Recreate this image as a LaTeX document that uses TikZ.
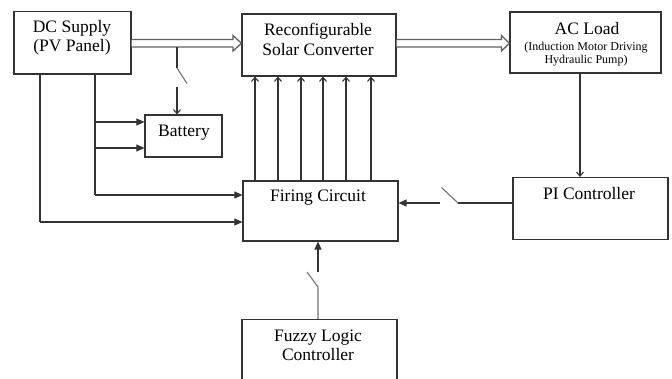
\documentclass[tikz,border=0pt]{standalone}
\usepackage{fontspec}
\setmainfont{Liberation Serif}
\newfontfamily\tnr{Liberation Serif}
\usetikzlibrary{arrows.meta,calc}
\definecolor{boxc}{gray}{0.2}
\definecolor{linec}{gray}{0.2}
\definecolor{dblc}{gray}{0.38}
\definecolor{swc}{gray}{0.45}
\begin{document}
\begin{tikzpicture}[x=1pt,y=-1pt,
  box/.style={draw=boxc, line width=1.2pt, inner sep=0pt, fill=white},
  lbl/.style={anchor=base, inner sep=0pt, font=\tnr\fontsize{17.5}{19}\selectfont},
  sml/.style={anchor=base, inner sep=0pt, font=\tnr\fontsize{12}{13}\selectfont},
  wire/.style={draw=linec, line width=1.1pt},
  swline/.style={draw=swc, line width=1.1pt},
  fa/.style={wire, -{Triangle[length=8pt,width=7pt]}},
  oa/.style={wire, -{Straight Barb[length=4pt,width=7pt]}},
  dbl/.style={draw=dblc, line width=1.3pt, fill=white, line join=miter}
]
\useasboundingbox (0,0) rectangle (672,378);
\clip (0,0) rectangle (672,378);
\fill[white] (0,0) rectangle (672,378);

% boxes
\node[box, minimum width=117pt, minimum height=62.5pt] (dc) at (72.5,42.75) {};
\node[box, minimum width=154pt, minimum height=62pt] (rc) at (319,45) {};
\node[box, minimum width=151pt, minimum height=61pt] (ac) at (585.5,42.5) {};
\node[box, minimum width=77pt, minimum height=42pt] (bat) at (183.5,136) {};
\node[box, minimum width=155pt, minimum height=60pt] (fc) at (320.5,211) {};
\node[box, minimum width=155pt, minimum height=62pt] (pi) at (590.5,208.5) {};
\node[box, minimum width=155pt, minimum height=70pt] (fz) at (319.5,354.5) {};

% texts
\node[lbl] (t1) at (72,32.5) {DC Supply};
\node[lbl] (t2) at (72,51.5) {(PV Panel)};
\node[lbl] (t3) at (318,35.5) {Reconfigurable};
\node[lbl] (t4) at (318,55) {Solar Converter};
\node[lbl] (t5) at (587,34) {AC Load};
\node[sml] (t6) at (586,50) {(Induction Motor Driving};
\node[sml] (t7) at (586,63.5) {Hydraulic Pump)};
\node[lbl] (t8) at (184,136.5) {Battery};
\node[lbl] (t9) at (318,201) {Firing Circuit};
\node[lbl] (t10) at (589,199.5) {PI Controller};
\node[lbl] (t11) at (318,341.5) {Fuzzy Logic};
\node[lbl] (t12) at (318,360.5) {Controller};

% double arrows
\draw[dbl] (dc.east |- 0,39.5) -- (233,39.5) -- (233,35.5) -- (rc.west |- 0,43.3)
  -- (233,51) -- (233,47) -- (dc.east |- 0,47);
\draw[dbl] (rc.east |- 0,39.5) -- (501.5,39.5) -- (501.5,35.5) -- (ac.west |- 0,43.3)
  -- (501.5,51) -- (501.5,47) -- (rc.east |- 0,47);

% switch to battery
\coordinate (s1) at (177,47);
\coordinate (s2) at (177,68);
\coordinate (s3) at (187,83.5);
\coordinate (s4) at (177,87);
\draw[wire] (s1) -- (s2);
\draw[swline] (s2) -- (s3);
\draw[oa] (s4) -- (bat.north -| s4);

% DC supply feeds
\coordinate (b1) at (95,74);
\coordinate (b2) at (40,74);
\draw[wire] (dc.south -| b1) -- (95,195);
\draw[fa] (95,195) -- (fc.west |- 0,195);
\draw[fa] (95,122) -- (bat.west |- 0,122);
\draw[fa] (95,148) -- (bat.west |- 0,148);
\draw[wire] (dc.south -| b2) -- (40,222);
\draw[fa] (40,222) -- (fc.west |- 0,222);

% firing -> converter
\foreach \x in {255,278,301,323,346,371}
  \draw[oa] (fc.north -| \x,0) -- (rc.south -| \x,0);

% AC load -> PI
\draw[oa] (ac.south -| 580,0) -- (pi.north -| 580,0);

% PI -> firing via switch
\coordinate (p1) at (458,203);
\coordinate (p2) at (441.5,187.5);
\coordinate (p3) at (440,203);
\draw[wire] (pi.west |- p1) -- (p1);
\draw[swline] (p1) -- (p2);
\draw[fa] (p3) -- (fc.east |- p3);

% fuzzy -> firing via switch
\coordinate (f1) at (318,287);
\coordinate (f2) at (307,272);
\coordinate (f3) at (318,272);
\draw[swline] (fz.north -| f1) -- (f1) -- (f2);
\draw[fa] (f3) -- (fc.south -| f3);
\end{tikzpicture}
\end{document}
